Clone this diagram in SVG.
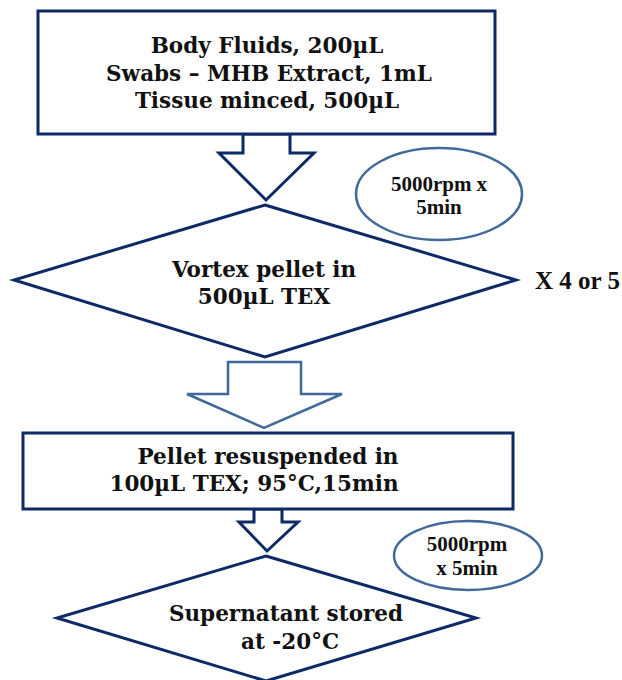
<svg xmlns="http://www.w3.org/2000/svg" width="622" height="680" viewBox="0 0 622 680">
<style>
.dk{fill:#fff;stroke:#0e2a66;stroke-width:3;stroke-linejoin:miter}
.lt{fill:#fff;stroke:#41699a;stroke-width:2.5}
.t{font-family:"DejaVu Serif","Liberation Serif",serif;font-weight:bold;font-size:21.5px;fill:#111;text-anchor:middle}
.s{font-family:"Liberation Serif",serif;font-weight:bold;font-size:21px;fill:#111;text-anchor:middle}
.x{font-family:"Liberation Serif",serif;font-weight:bold;font-size:25px;fill:#111}
</style>
<rect width="622" height="680" fill="#fff"/>
<g id="connectors">
<polygon class="dk" points="243,134 290,134 290,153 314,153 266,200 219,153 243,153"/>
<polygon class="lt" points="228,362 301,362 301,394 342,394 264,428 187,394 228,394"/>
<polygon class="dk" points="254,509 282,509 282,522 298,522 267,551 239,522 254,522"/>
</g>
<g id="n1">
<rect class="dk" x="38" y="11" width="457" height="123"/>
<text class="t" x="267" y="53">Body Fluids, 200µL</text>
<text class="t" x="269" y="81">Swabs – MHB Extract, 1mL</text>
<text class="t" x="267" y="108">Tissue minced, 500µL</text>
</g>
<g id="e1">
<ellipse class="lt" cx="439" cy="194" rx="83" ry="46"/>
<text class="s" x="439" y="191">5000rpm x</text>
<text class="s" x="439" y="214">5min</text>
</g>
<g id="n2">
<polygon class="dk" points="265,205 516,280 265,357 14,280"/>
<text class="t" x="264" y="277">Vortex pellet in</text>
<text class="t" x="264" y="304">500µL TEX</text>
</g>
<g id="rep">
<text class="x" x="535" y="289">X 4 or 5</text>
</g>
<g id="n3">
<rect class="dk" x="23" y="433" width="490" height="76"/>
<text class="t" x="268" y="464">Pellet resuspended in</text>
<text class="t" x="254" y="491">100µL TEX; 95°C,15min</text>
</g>
<g id="e2">
<ellipse class="lt" cx="468" cy="555.5" rx="74" ry="34.5"/>
<text class="s" x="467" y="551">5000rpm</text>
<text class="s" x="467" y="575">x 5min</text>
</g>
<g id="n4">
<polygon class="dk" points="266,556 476,618 266,681 57,618"/>
<text class="t" x="286" y="621">Supernatant stored</text>
<text class="t" x="290" y="649">at -20°C</text>
</g>
</svg>
